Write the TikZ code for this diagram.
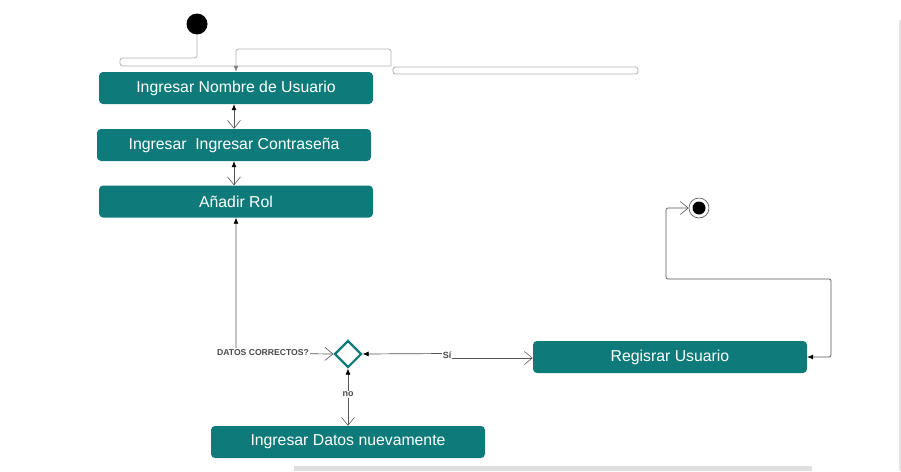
\documentclass[tikz,border=0pt]{standalone}
\usepackage{fontspec}
\setmainfont{Liberation Sans}
\usetikzlibrary{arrows.meta,shapes.geometric}
\definecolor{tealbox}{HTML}{0E7B7A}
\definecolor{linegray}{HTML}{555555}
\definecolor{lightline}{HTML}{B0B0B0}
\definecolor{labelgray}{HTML}{4A4A4A}
\tikzset{
  box/.style={rectangle, rounded corners=4pt, fill=tealbox, text=white, minimum width=274pt, minimum height=32pt, inner sep=0pt, font=\fontsize{15.8pt}{17pt}\selectfont},
  conn/.style={draw=linegray, line width=0.7pt},
  openhead/.style={-{Straight Barb[length=8pt,width=13pt,line width=0.6pt]}},
  bothhead/.style={{Latex[length=6pt,width=5pt,black]}-{Straight Barb[length=8pt,width=13pt,line width=0.6pt]}},
  topline/.style={draw=lightline, line width=0.8pt},
  lbl/.style={fill=white, inner sep=1pt, text=labelgray, font=\bfseries\fontsize{8.6pt}{9pt}\selectfont},
}
\begin{document}
\begin{tikzpicture}[x=1pt,y=-1pt]
\useasboundingbox (0,0) rectangle (901,471);
% background decorations
\fill[gray!25] (294,466) rectangle (812,471);
\draw[gray!20, line width=1.2pt] (900,20) -- (900,471);

% nodes
\node[circle, fill=black, minimum size=21pt, inner sep=0pt] (start) at (197,24) {};
\node[box] (b1) at (236,88) {Ingresar Nombre de Usuario};
\node[box] (b2) at (234,145) {Ingresar\ \ Ingresar Contraseña};
\node[box] (b3) at (236,201.5) {Añadir Rol};
\node[diamond, draw=tealbox, fill=white, line width=2.2pt, minimum size=27pt, inner sep=0pt] (dec) at (348,354) {};
\node[box] (b4) at (348,442) {Ingresar Datos nuevamente};
\node[box] (b5) at (670,357) {Regisrar Usuario};
\node[circle, draw=black!70, fill=white, line width=0.6pt, minimum size=20pt, inner sep=0pt] (endo) at (699,208) {};
\node[circle, fill=black, minimum size=13pt, inner sep=0pt] (endi) at (699,208) {};

% top messy connector
\coordinate (t1) at (197,58);
\coordinate (t2) at (120,58);
\coordinate (t3) at (120,66);
\coordinate (t4) at (391,66);
\coordinate (t5) at (391,49);
\coordinate (t6) at (236,49);
\coordinate (t7) at (393,67);
\coordinate (t8) at (638,74);
\draw[topline, rounded corners=2.5pt] (start.south) -- (t1) -- (t2) -- (t3) -- (t4);
\draw[topline, rounded corners=2.5pt, -{Latex[length=6pt,width=5pt,color=gray]}] (t4) -- (t5) -- (t6) -- (b1.north);
\draw[topline, rounded corners=2.5pt] (t7) rectangle (t8);

% box chain
\draw[conn, bothhead] ([xshift=-2pt]b1.south) -- (b2.north);
\draw[conn, bothhead] (b2.south) -- (b2.south |- b3.north);

% Añadir Rol -> decision
\coordinate (c1) at (236,353);
\draw[conn, bothhead] (b3.south) -- (c1) -- (dec.west);
\node[lbl] (l1) at (263,352.5) {DATOS CORRECTOS?};

% decision -> Registrar
\coordinate (c2) at (447,353.5);
\coordinate (c3) at (447,358);
\draw[conn, {Latex[length=6pt,width=5pt,black]}-] (dec.east) -- (c2);
\draw[conn, openhead] (c3) -- (b5.west |- c3);
\node[lbl, font=\bfseries\fontsize{9pt}{10pt}\selectfont] (l2) at (447,355.5) {Sí};

% decision -> Ingresar Datos
\draw[conn, bothhead] (dec.south) -- (b4.north);
\node[lbl, font=\bfseries\fontsize{9pt}{10pt}\selectfont] (l3) at (348,394.5) {no};

% Registrar -> end
\coordinate (e1) at (831,357);
\coordinate (e2) at (831,279);
\coordinate (e3) at (666,279);
\coordinate (e4) at (666,208);
\draw[conn, rounded corners=2pt, bothhead] (b5.east) -- (e1) -- (e2) -- (e3) -- (e4) -- (endo.west);
\end{tikzpicture}
\end{document}
